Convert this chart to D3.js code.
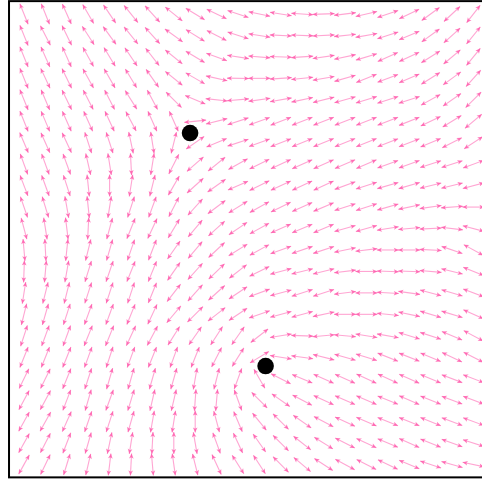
<!DOCTYPE html>
<html><head><meta charset="utf-8">
<script src="https://cdn.jsdelivr.net/npm/d3@7"></script>
<style>html,body{margin:0;padding:0;background:#fff;overflow:hidden}</style>
</head><body>
<svg id="chart" width="482" height="482"></svg>
<script>
// grid indices (columns left->right, rows top->bottom)
const colIndex = d3.range(22);
const rowIndex = d3.range(22);
// orientation of each double-headed arrow, degrees (screen, y down), one array per row
const row00 = [68,68,66,60,56,51,48,39,31,26,18,12,9,4,-2,-7,-13,-19,-25,-36,-43,-52];
const row01 = [68,63,64,57,54,51,48,36,32,27,18,9,3,2,-3,-6,-10,-18,-23,-36,-42,-51];
const row02 = [68,66,66,61,59,56,52,39,31,20,9,5,2,-4,-8,-12,-17,-24,-25,-32,-40,-51];
const row03 = [68,65,64,61,60,59,55,39,30,13,1,0,-4,-6,-10,-16,-22,-21,-23,-32,-36,-48];
const row04 = [68,67,64,63,63,58,62,45,23,6,-5,-8,-10,-12,-14,-16,-17,-18,-18,-29,-35,-45];
const row05 = [68,67,66,66,65,62,66,66,-6,-14,-18,-20,-21,-21,-21,-21,-21,-21,-22,-26,-32,-40];
const row06 = [67,66,65,72,72,78,81,104,-35,-23,-18,-20,-21,-22,-22,-22,-22,-21,-21,-23,-27,-33];
const row07 = [70,70,70,77,81,87,99,117,-41,-39,-29,-26,-25,-24,-24,-23,-23,-20,-20,-18,-18,-20];
const row08 = [69,70,72,84,90,99,104,120,-42,-35,-24,-26,-25,-25,-25,-20,-18,-16,-16,-14,-14,-15];
const row09 = [71,73,80,84,99,108,110,117,-48,-37,-32,-29,-26,-24,-23,-18,-18,-16,-12,-8,-4,0];
const row10 = [75,81,83,93,105,112,115,121,-50,-42,-34,-29,-24,-23,-23,-16,-16,-9,-5,-3,7,15];
const row11 = [85,87,96,104,106,109,111,125,-50,-43,-32,-29,-20,-19,-18,-12,-7,0,0,3,19,29];
const row12 = [92,95,100,107,109,112,112,125,-48,-44,-38,-26,-15,-14,-14,-7,0,2,2,5,14,22];
const row13 = [99,104,104,108,108,108,112,128,-48,-42,-34,-20,-15,-18,-18,-7,0,3,8,15,17,21];
const row14 = [104,106,108,110,110,112,115,130,-45,-38,-34,-19,-15,-15,-12,0,0,6,12,17,17,24];
const row15 = [108,110,110,112,112,115,118,122,125,123,125,142,-9,2,-5,5,9,10,17,18,23,28];
const row16 = [112,112,112,110,108,110,112,110,112,117,122,149,9,8,14,16,17,22,22,23,25,27];
const row17 = [116,116,112,108,106,106,106,106,100,104,110,60,27,23,24,24,25,25,24,23,21,21];
const row18 = [118,118,111,106,110,107,103,103,94,95,70,45,35,28,25,24,23,22,24,22,21,21];
const row19 = [119,119,114,109,108,106,100,99,90,75,67,51,45,35,28,25,23,22,22,22,21,20];
const row20 = [119,117,111,106,102,99,93,90,80,70,65,55,45,38,32,27,25,23,24,22,20,18];
const row21 = [119,116,107,103,97,93,85,82,76,65,58,57,45,40,33,28,27,26,23,18,16,12];
const angleRows = [row00,row01,row02,row03,row04,row05,row06,row07,row08,row09,row10,
  row11,row12,row13,row14,row15,row16,row17,row18,row19,row20,row21];
// the two marked points, in grid units
const pointU = [7.76, 11.29];
const pointV = [5.55, 16.41];

const svg = d3.select('#chart');
const x = d3.scaleLinear().domain([0, 21]).range([24, 473.4]);
const y = d3.scaleLinear().domain([0, 21]).range([14, 464.5]);
const arrowLen = 22;

const defs = svg.append('defs');
defs.append('marker').attr('id','head')
  .attr('viewBox','-6 -3 7 6').attr('refX',0).attr('refY',0)
  .attr('markerUnits','userSpaceOnUse').attr('markerWidth',7).attr('markerHeight',6)
  .attr('orient','auto-start-reverse')
  .append('path').attr('d','M0,0 L-5,-2.3 L-3.8,0 L-5,2.3 Z')
  .attr('fill','#ff58aa').attr('fill-opacity',0.8);

const cells = [];
rowIndex.forEach(j => colIndex.forEach(i => cells.push({i, j, a: angleRows[j][i]})));

svg.append('g').selectAll('line').data(cells).join('line')
  .attr('x1', d => x(d.i) - arrowLen/2*Math.cos(d.a*Math.PI/180))
  .attr('y1', d => y(d.j) - arrowLen/2*Math.sin(d.a*Math.PI/180))
  .attr('x2', d => x(d.i) + arrowLen/2*Math.cos(d.a*Math.PI/180))
  .attr('y2', d => y(d.j) + arrowLen/2*Math.sin(d.a*Math.PI/180))
  .attr('stroke','#ff69b4').attr('stroke-opacity',0.6).attr('stroke-width',1.1)
  .attr('marker-start','url(#head)').attr('marker-end','url(#head)');

svg.append('g').selectAll('circle').data(pointU.map((u,k)=>({u, v: pointV[k]}))).join('circle')
  .attr('cx', d => x(d.u)).attr('cy', d => y(d.v)).attr('r', 8.3).attr('fill','#000');

svg.append('rect')
  .attr('x', x(-0.7)).attr('y', y(-0.6))
  .attr('width', x(21.7)-x(-0.7)).attr('height', y(21.6)-y(-0.6))
  .attr('fill','none').attr('stroke','#000').attr('stroke-width',2);
</script>
</body></html>
